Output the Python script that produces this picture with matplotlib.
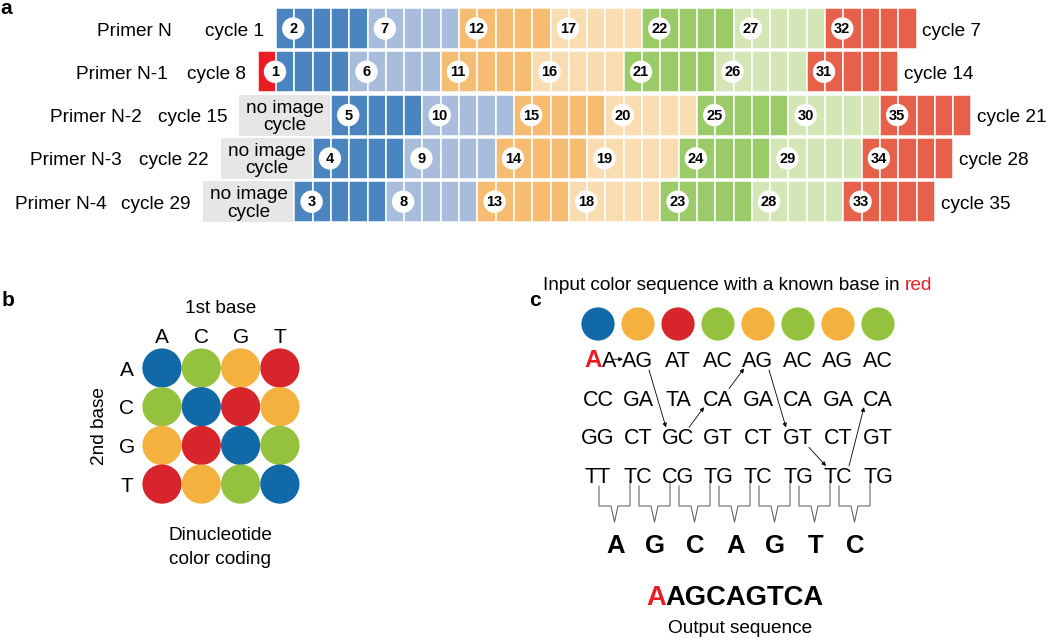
import matplotlib
matplotlib.use('Agg')
import matplotlib.pyplot as plt
from matplotlib.patches import Rectangle, Circle

plt.rcParams['font.family'] = ['Liberation Sans', 'DejaVu Sans']

# ---- panel a data ----
primers = ['Primer N', 'Primer N-1', 'Primer N-2', 'Primer N-3', 'Primer N-4']
first_cycle = ['cycle 1', 'cycle 8', 'cycle 15', 'cycle 22', 'cycle 29']
last_cycle = ['cycle 7', 'cycle 14', 'cycle 21', 'cycle 28', 'cycle 35']
row_shift = [0, -1, 3, 2, 1]          # first imaged position of each primer
no_image = [False, False, True, True, True]
known_base_row = 1
circle_labels = [
    [2, 7, 12, 17, 22, 27, 32],
    [1, 6, 11, 16, 21, 26, 31],
    [5, 10, 15, 20, 25, 30, 35],
    [4, 9, 14, 19, 24, 29, 34],
    [3, 8, 13, 18, 23, 28, 33],
]
group_colors = ['#4A85BF', '#A8BDDB', '#F6BD72', '#FADCB1',
                '#9BCA69', '#D4E6B6', '#E6604A']
n_groups = 7
group_len = 5

# ---- panel b data ----
bases = ['A', 'C', 'G', 'T']
col4 = {'B': '#1269A8', 'O': '#F4B13E', 'R': '#D7252B', 'G': '#94C23E'}
color_matrix = [          # rows: 2nd base, cols: 1st base
    ['B', 'G', 'O', 'R'],
    ['G', 'B', 'R', 'O'],
    ['O', 'R', 'B', 'G'],
    ['R', 'O', 'G', 'B'],
]

# ---- panel c data ----
input_colors = ['B', 'O', 'R', 'G', 'O', 'G', 'O', 'G']
dinuc_rows = [
    ['AA', 'AG', 'AT', 'AC', 'AG', 'AC', 'AG', 'AC'],
    ['CC', 'GA', 'TA', 'CA', 'GA', 'CA', 'GA', 'CA'],
    ['GG', 'CT', 'GC', 'GT', 'CT', 'GT', 'CT', 'GT'],
    ['TT', 'TC', 'CG', 'TG', 'TC', 'TG', 'TC', 'TG'],
]
path_rows = [0, 0, 2, 1, 0, 2, 3, 1]
decoded = ['A', 'G', 'C', 'A', 'G', 'T', 'C']
known_base = 'A'
output_rest = 'AGCAGTCA'

fs = 13.7

fig = plt.figure(figsize=(10.5, 6.39), dpi=100)
ax = fig.add_axes([0, 0, 1, 1])
ax.set_xlim(0, 1050)
ax.set_ylim(639, 0)
ax.axis('off')

# ================= panel a =================
x0, w = 276, 18.3
row_top0, pitch, rh = 8, 43.3, 41
ax.text(0, 9, 'a', fontsize=15, fontweight='bold', ha='left', va='center')
primer_right = [172, 168, 142, 122, 107]
for r in range(5):
    top = row_top0 + r * pitch
    yc = top + rh / 2
    s = row_shift[r]
    for j in range(n_groups * group_len):
        c = s + j
        fc = group_colors[j // group_len]
        if r == known_base_row and j == 0:
            fc = '#EC1C24'
        ax.add_patch(Rectangle((x0 + c * w, top), w, rh, facecolor=fc,
                               edgecolor='white', lw=1.1))
    left = x0 + s * w
    if no_image[r]:
        gl = x0 + (s - group_len) * w
        ax.add_patch(Rectangle((gl, top), group_len * w - 1, rh,
                               facecolor='#E6E6E6', edgecolor='none'))
        ax.text(gl + group_len * w / 2, yc - 2.5, 'no image', fontsize=fs,
                ha='center', va='baseline')
        ax.text(gl + group_len * w / 2, yc + 15, 'cycle', fontsize=fs,
                ha='center', va='baseline')
        left = gl
    for lab in circle_labels[r]:
        cx = x0 + (lab - 1) * w - 1
        ax.add_patch(Circle((cx, yc), 11.2, facecolor='white',
                            edgecolor='none', zorder=3))
        ax.text(cx, yc + 4.6, str(lab), fontsize=10.5, fontweight='bold',
                ha='center', va='baseline', zorder=4)
    ax.text(left - 12, yc + 7, first_cycle[r], fontsize=fs,
            ha='right', va='baseline')
    ax.text(primer_right[r], yc + 7, primers[r], fontsize=fs,
            ha='right', va='baseline')
    right = x0 + (s + n_groups * group_len) * w
    ax.text(right + 6, yc + 7, last_cycle[r], fontsize=fs,
            ha='left', va='baseline')

# ================= panel b =================
ax.text(2, 300, 'b', fontsize=15, fontweight='bold', ha='left', va='center')
bx0, bdx, by0, bdy, br = 162, 39.3, 368, 38.7, 19.6
for i in range(4):
    for j in range(4):
        ax.add_patch(Circle((bx0 + j * bdx, by0 + i * bdy), br,
                            facecolor=col4[color_matrix[i][j]], edgecolor='none'))
for k, b in enumerate(bases):
    ax.text(bx0 + k * bdx, 343, b, fontsize=15, ha='center', va='baseline')
    ax.text(127, by0 + k * bdy + 7.5, b, fontsize=15, ha='center', va='baseline')
ax.text(bx0 + 1.5 * bdx, 313, '1st base', fontsize=fs, ha='center', va='baseline')
ax.text(99, by0 + 1.5 * bdy, '2nd base', fontsize=fs, ha='center', va='center',
        rotation=90)
ax.text(bx0 + 1.5 * bdx - 1, 540, 'Dinucleotide', fontsize=fs, ha='center', va='baseline')
ax.text(bx0 + 1.5 * bdx - 1, 564, 'color coding', fontsize=fs, ha='center', va='baseline')

# ================= panel c =================
ax.text(529, 300, 'c', fontsize=15, fontweight='bold', ha='left', va='center')
t = ax.text(543, 290, 'Input color sequence with a known base in', fontsize=fs,
            ha='left', va='baseline')
ax.annotate('red', xy=(1, 0), xycoords=t, xytext=(3.8, 0),
            textcoords='offset points', fontsize=fs, color='#EC1C24',
            ha='left', va='bottom')
cx0, cdx, cy, cr = 598, 40, 324, 16.6
col_x = [cx0 + k * cdx for k in range(len(input_colors))]
for k, cc in enumerate(input_colors):
    ax.add_patch(Circle((col_x[k], cy), cr, facecolor=col4[cc], edgecolor='none'))

base_y = [367, 405.7, 444.4, 483]
dfs = 15.5
for r in range(4):
    for k in range(len(input_colors)):
        txt = dinuc_rows[r][k]
        if r == 0 and k == 0:
            ra = ax.text(584, base_y[r], txt[0], fontsize=17.5, fontweight='bold',
                         color='#EC1C24', ha='left', va='baseline')
            ax.annotate(txt[1], xy=(1, 0), xycoords=ra, xytext=(0.2, 0),
                        textcoords='offset points', fontsize=dfs,
                        ha='left', va='bottom')
            continue
        ax.text(col_x[k], base_y[r], txt, fontsize=dfs, ha='center', va='baseline')

# arrows tracing the decoded path
cap = 15.5
for k in range(len(path_rows) - 1):
    r0, r1 = path_rows[k], path_rows[k + 1]
    if r0 == r1:
        y_s = y_e = base_y[r0] - cap / 2
        xs, xe = col_x[k] + 15, col_x[k + 1] - 15
    elif r1 > r0:
        y_s, y_e = base_y[r0] + 3, base_y[r1] - cap - 1.5
        xs, xe = col_x[k] + 11, col_x[k + 1] - 12
    else:
        y_s, y_e = base_y[r0] - cap - 1.5, base_y[r1] + 1.5
        xs, xe = col_x[k] + 11, col_x[k + 1] - 14
    ax.annotate('', xy=(xe, y_e), xytext=(xs, y_s),
                arrowprops=dict(arrowstyle='-|>', lw=0.6, color='black',
                                mutation_scale=6, shrinkA=0, shrinkB=0))

# brackets joining neighbouring dinucleotides
for k in range(len(decoded)):
    xl, xr = col_x[k] + 1, col_x[k + 1] - 8
    xm = (xl + xr) / 2
    ax.plot([xl, xl, xm - 3.5, xm, xm + 3.5, xr, xr],
            [486, 506, 506, 522, 506, 506, 481], color='#555555', lw=0.7)
    ax.text(xm + 1, 553, decoded[k], fontsize=18.5, fontweight='bold',
            ha='center', va='baseline')

ka = ax.text(646, 605, known_base, fontsize=19.7, fontweight='bold', color='#EC1C24',
             ha='left', va='baseline')
ax.annotate(output_rest, xy=(1, 0), xycoords=ka, fontsize=19.7, fontweight='bold',
            ha='left', va='bottom')
ax.text(740, 633, 'Output sequence', fontsize=fs, ha='center', va='baseline')

fig.savefig('out.png', dpi=100)
